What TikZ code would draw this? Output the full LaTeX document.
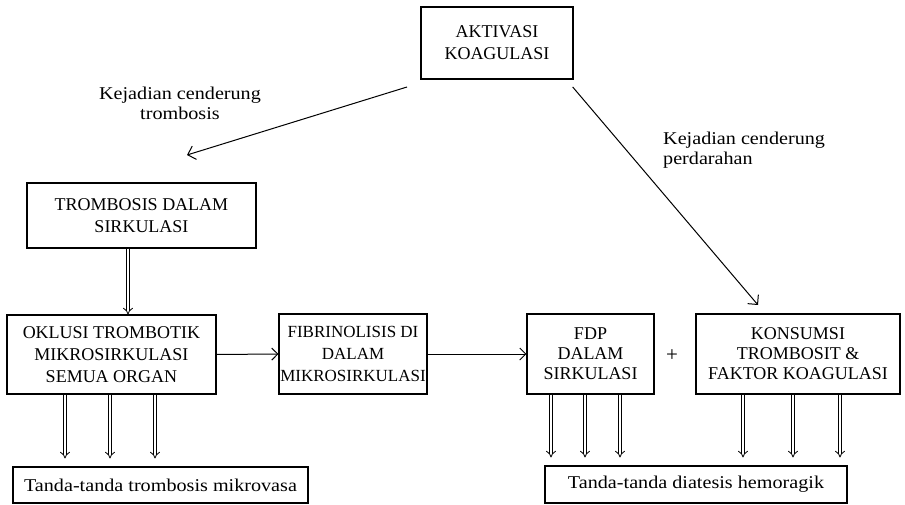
\documentclass[tikz,border=0pt]{standalone}
\usepackage{fontspec}
\setmainfont{Liberation Serif}
\newfontfamily\widefont[FakeStretch=1.12]{Liberation Serif}
\usetikzlibrary{arrows.meta}
\begin{document}
\begin{tikzpicture}[x=1pt,y=-1pt,
  box/.style={draw, line width=1.1pt, align=center, inner sep=0pt,
    font=\fontsize{18}{22}\selectfont},
  lbl/.style={inner sep=0pt, font=\widefont\fontsize{18}{20}\selectfont},
  arr/.style={line width=1pt, -{Straight Barb[length=7pt,width=14pt,line width=1pt]}},
  harr/.style={line width=1pt, -{Straight Barb[length=6pt,width=12pt,line width=1pt]}},
  dbl/.style={double, double distance=2.6pt, line width=0.8pt, -{Implies[]}}
]
\useasboundingbox (0,0) rectangle (905,505);

\node[box, minimum width=152pt, minimum height=72pt] (akt) at (497,43) {AKTIVASI\\KOAGULASI};
\node[box, minimum width=229pt, minimum height=65pt] (tromb) at (141.5,215.5) {TROMBOSIS DALAM\\SIRKULASI};
\node[box, minimum width=209pt, minimum height=79pt] (okl) at (111.5,354.5) {OKLUSI TROMBOTIK\\MIKROSIRKULASI\\SEMUA ORGAN};
\node[box, minimum width=148pt, minimum height=80pt, font=\fontsize{17}{22}\selectfont] (fib) at (353,354) {FIBRINOLISIS DI\\DALAM\\MIKROSIRKULASI};
\node[box, minimum width=127pt, minimum height=80pt, font=\fontsize{18}{20}\selectfont] (fdp) at (590.5,354) {FDP\\DALAM\\SIRKULASI};
\node[box, minimum width=204pt, minimum height=80pt, font=\fontsize{18}{20}\selectfont] (kon) at (798,354) {KONSUMSI\\TROMBOSIT \&\\FAKTOR KOAGULASI};
\node[box, minimum width=295pt, minimum height=36pt, font=\widefont\fontsize{18}{22}\selectfont] (t1) at (160.5,485) {Tanda-tanda trombosis mikrovasa};
\node[box, minimum width=302pt, minimum height=37pt, font=\widefont\fontsize{18}{22}\selectfont] (t2) at (696,484.5) {Tanda-tanda diatesis hemoragik};

\node[lbl, align=center] (lt) at (180,103) {Kejadian cenderung\\trombosis};
\node[lbl, align=left, anchor=west] (lp) at (663,150) {Kejadian cenderung\\perdarahan};
\node[inner sep=0pt, font=\fontsize{21}{22}\selectfont] (plus) at (672,356) {+};

\coordinate (s1) at (407,87);
\coordinate (e1) at (187,155);
\coordinate (s2) at (572.7,87);
\coordinate (e2) at (758,305);
\draw[arr] (s1) -- (e1);
\draw[arr] (s2) -- (e2);

\draw[harr] (okl.east) -- (fib.west);
\draw[harr] (fib.east) -- (fdp.west);

\draw[dbl] (128,0 |- tromb.south) -- (128,0 |- okl.north);
\foreach \x in {65,110,155}
  \draw[dbl, shorten >=8pt] (\x,0 |- okl.south) -- (\x,0 |- t1.north);
\foreach \x in {551,585,620}
  \draw[dbl, shorten >=8pt] (\x,0 |- fdp.south) -- (\x,0 |- t2.north);
\foreach \x in {743,793,840}
  \draw[dbl, shorten >=8pt] (\x,0 |- kon.south) -- (\x,0 |- t2.north);
\end{tikzpicture}
\end{document}
